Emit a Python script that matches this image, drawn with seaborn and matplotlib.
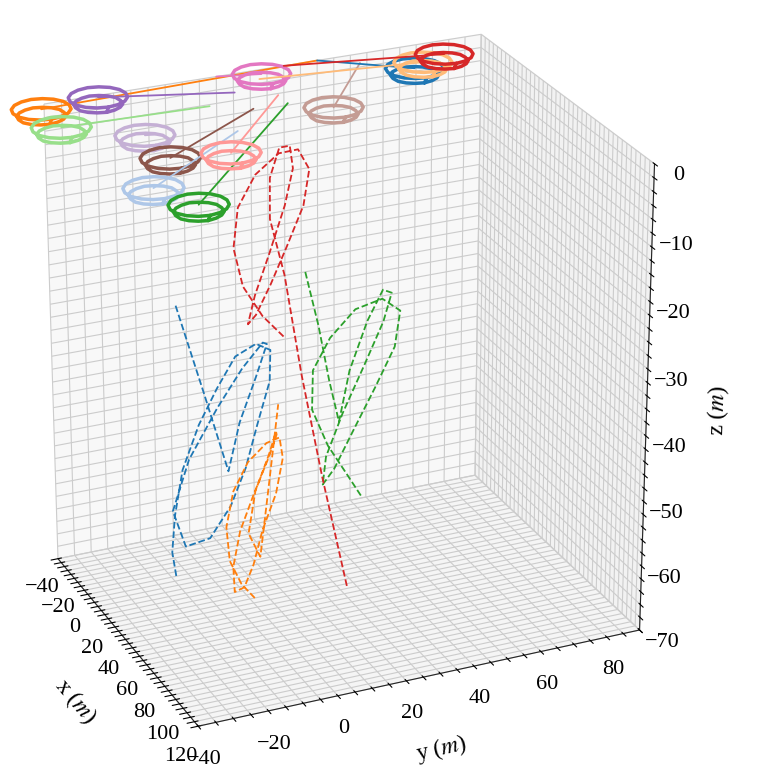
import matplotlib
matplotlib.use("Agg")
import matplotlib.pyplot as plt
import seaborn as sns

sns.set_style("white")
plt.rcParams['font.family'] = ['Liberation Serif', 'DejaVu Serif']
plt.rcParams['mathtext.fontset'] = 'stix'

# loop outline (offsets), typed shape used by each top trajectory (two rings)
loop_dx = [12, 11, 8.5, 4.6, 0, -4.6, -8.5, -11, -12, -11, -8.5, -4.6, 0, 4.6, 8.5, 11, 12,
           10, 9, 7, 4, 0, -4, -7, -9, -10, -9, -7, -4, 0, 4, 7, 9, 10]
loop_dy = [0, 3, 5.6, 7.4, 8, 7.4, 5.6, 3, 0, -3, -5.6, -7.4, -8, -7.4, -5.6, -3, 0,
           0, 2.5, 4.6, 6.1, 6.5, 6.1, 4.6, 2.5, 0, -2.5, -4.6, -6.1, -6.5, -6.1, -4.6, -2.5, 0]
loop_dz = [0, 0, 0, 0, 0, 0, 0, 0, 0, 0, 0, 0, 0, 0, 0, 0, 0,
           -1, -1, -1, -1, -1, -1, -1, -1, -1, -1, -1, -1, -1, -1, -1, -1, -1]

top_names = ["orange", "purple", "lgreen", "lpurple", "brown", "lblue", "green",
             "lpink", "pink", "lbrown", "blue", "peach", "red"]
top_colors = ["#ff7f0e", "#9467bd", "#98df8a", "#c5b0d5", "#8c564b", "#aec7e8", "#2ca02c",
              "#ff9896", "#e377c2", "#c49c94", "#1f77b4", "#ffbb78", "#d62728"]
top_cx = [-35, -38, -20, -5, 15, 35, 45, 20, -35, 5, -15, -20, -25]
top_cy = [-42, -25, -40, -20, -18, -28, -18, -2, 22, 32, 62, 66, 74]
top_cz = [0, 0, -1, -2, -3, -4, -6, -3, 0, -1, 0, 0, 0]
start_x = [-40, -20, -10, 10, 0, 20, 0, -10, -40, -30, -40, -30, -40]
start_y = [40, 10, 0, -20, 10, 0, 20, 20, 10, 50, 40, 20, 30]

# dashed trajectories (figure-eight-like paths)
dash_colors = ["#1f77b4", "#ff7f0e", "#2ca02c", "#d62728"]
dash_x = [
    [60, 56, 48, 38, 30, 24, 22, 26, 34, 44, 52, 58, 60, 56, 48, 38, 30, 24, 22, 26, 34, 44, 52, 58, 55, 45],
    [70, 67, 62, 55, 48, 42, 40, 43, 50, 57, 64, 69, 70, 67, 62, 55, 48, 42, 40, 43, 50, 57, 64, 69, 65, 60],
    [40, 36, 30, 24, 18, 15, 17, 24, 32, 40, 44, 45, 40, 35, 28, 21, 16, 15, 20, 28, 36, 42, 45, 42, 38, 35],
    [30, 26, 20, 14, 8, 5, 8, 14, 22, 30, 34, 35, 30, 25, 18, 12, 7, 5, 9, 16, 24, 31, 35, 38, 45, 60],
]
dash_y = [
    [-30, -30, -27, -22, -15, -8, -2, 3, 5, 2, -4, -9, -14, -19, -24, -25, -18, -8, 0, 5, 4, -2, -9, -14, -20, -25],
    [-10, -13, -15, -14, -10, -4, 2, 5, 4, 0, -6, -10, -13, -15, -14, -10, -4, 2, 5, 4, 0, -6, -10, -8, -4, 0],
    [30, 27, 23, 20, 22, 28, 35, 41, 44, 40, 33, 26, 22, 20, 23, 30, 38, 44, 45, 40, 33, 26, 22, 20, 18, 15],
    [10, 5, 1, 0, 3, 9, 15, 19, 20, 16, 10, 5, 2, 1, 5, 11, 17, 20, 18, 13, 8, 6, 9, 13, 17, 20],
]
dash_z = [
    [-58, -55, -51, -46, -41, -37, -33, -31, -31, -34, -39, -44, -49, -54, -56, -52, -46, -40, -35, -31, -30, -33, -38, -44, -32, -20],
    [-62, -60, -57, -53, -49, -46, -44, -43, -45, -49, -53, -57, -60, -61, -58, -54, -50, -46, -43, -42, -44, -48, -53, -56, -45, -35],
    [-55, -52, -48, -43, -38, -34, -30, -28, -29, -33, -38, -44, -50, -53, -50, -45, -39, -33, -28, -26, -29, -35, -42, -36, -28, -20],
    [-30, -27, -23, -18, -13, -9, -6, -5, -7, -11, -16, -21, -26, -28, -25, -20, -14, -9, -5, -4, -7, -12, -20, -35, -50, -65],
]

fig = plt.figure(figsize=(7.84, 7.84), dpi=100)
ax = fig.add_subplot(111, projection='3d')
fig.subplots_adjust(left=-0.10, right=0.95, bottom=-0.005, top=1.035)

for i in range(len(top_names)):
    xs = [top_cx[i] + d for d in loop_dx]
    ys = [top_cy[i] + d for d in loop_dy]
    zs = [top_cz[i] + d for d in loop_dz]
    ax.plot(xs, ys, zs, color=top_colors[i], lw=2.5)
    ax.plot([start_x[i], top_cx[i]], [start_y[i], top_cy[i]], [0, top_cz[i]],
            color=top_colors[i], lw=1.3)

for i in range(4):
    ax.plot(dash_x[i], dash_y[i], dash_z[i], color=dash_colors[i], ls='--', lw=1.3)

ax.set_xlim(-40, 120)
ax.set_ylim(-40, 90)
ax.set_zlim(-70, 0)

def lab(v, step):
    if v % step:
        return ""
    return "\u2212" + str(-v) if v < 0 else str(v)

t = list(range(-40, 121, 4))
ax.set_xticks(t); ax.set_xticklabels([lab(v, 20) for v in t])
t = list(range(-40, 91, 5))
ax.set_yticks(t); ax.set_yticklabels([lab(v, 20) for v in t])
t = list(range(-70, 1, 2))
ax.set_zticks(t); ax.set_zticklabels([lab(v, 10) for v in t])
ax.tick_params(labelsize=16, colors='black')

ax.set_xlabel("x ($m$)", fontsize=17, labelpad=14, color='black')
ax.set_ylabel("y ($m$)", fontsize=17, labelpad=14, color='black')
ax.set_zlabel("z ($m$)", fontsize=17, labelpad=14, color='black')

for a in (ax.xaxis, ax.yaxis, ax.zaxis):
    a._axinfo['grid']['color'] = (0.8, 0.8, 0.8, 1)
    a._axinfo['grid']['linewidth'] = 0.8
ax.view_init(elev=25, azim=-24)
ax.set_box_aspect((1, 1.25, 1.32), zoom=0.95)

fig.savefig("out.png", dpi=100)
